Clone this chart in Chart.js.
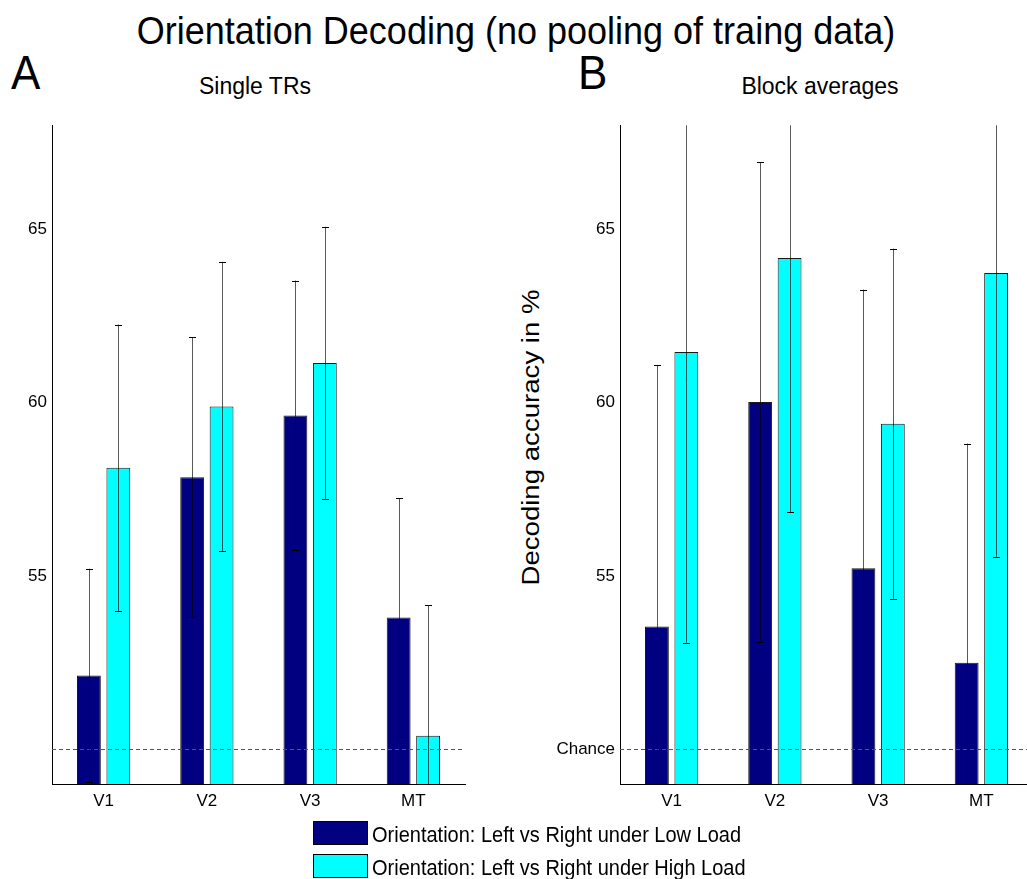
<!DOCTYPE html>
<html>
<head>
<meta charset="utf-8">
<title>Orientation Decoding</title>
<script src="https://cdn.jsdelivr.net/npm/chart.js@4.4.1/dist/chart.umd.min.js"></script>
<style>
  html, body { margin: 0; padding: 0; background: #fff; }
  body {
    width: 1027px; height: 879px; overflow: hidden; position: relative;
    font-family: Arial, "Liberation Sans", sans-serif; color: #000;
  }
  .txt { position: absolute; line-height: 1; white-space: nowrap; transform-origin: 0 0; }
  canvas { position: absolute; }
  .swatch { position: absolute; box-sizing: border-box; border: 1px solid #000; }
</style>
</head>
<body>
<div class="txt" style="left:0; width:1032px; text-align:center; top:11px; font-size:36px; transform-origin:50% 0; transform:scaleY(1.1);">Orientation Decoding (no pooling of traing data)</div>
<div class="txt" style="left:11px; top:48px; font-size:44px; transform:scaleY(1.1);">A</div>
<div class="txt" style="left:578px; top:48px; font-size:44px; transform:scaleY(1.1);">B</div>
<div class="txt" style="left:155px; width:200px; text-align:center; top:75px; font-size:23px;">Single TRs</div>
<div class="txt" style="left:720px; width:200px; text-align:center; top:75px; font-size:23px;">Block averages</div>
<div class="txt" id="ytitle" style="font-size:23px; transform-origin:50% 50%;">Decoding accuracy in %</div>

<canvas id="chartA" width="480" height="714" style="left:0; top:110px;"></canvas>
<canvas id="chartB" width="540" height="714" style="left:500px; top:110px;"></canvas>

<div class="swatch" style="left:313px; top:821px; width:55px; height:24px; background:#000080;"></div>
<div class="swatch" style="left:313px; top:854px; width:55px; height:24px; background:#00ffff;"></div>
<div class="txt" id="leg1" style="left:372px; top:823px; font-size:20px; transform:scaleY(1.1);"></div>
<div class="txt" id="leg2" style="left:372px; top:856px; font-size:20px; transform:scaleY(1.1);"></div>

<script>
// Data
const categories = ['V1', 'V2', 'V3', 'MT'];
const seriesNames = ['Orientation: Left vs Right under Low Load', 'Orientation: Left vs Right under High Load'];

// A: single TRs
const singleLow = [52.13, 57.85, 59.63, 53.80];
const singleLowErr = [3.08, 4.03, 3.89, 3.44];
const singleHigh = [58.12, 59.89, 61.14, 50.39];
const singleHighErr = [4.13, 4.17, 3.93, 3.77];

// B: block averages
const blockLow = [53.54, 60.02, 55.22, 52.50];
const blockLowErr = [7.53, 6.92, 8.04, 6.32];
const blockHigh = [61.46, 64.17, 59.39, 63.74];
const blockHighErr = [8.38, 7.33, 5.05, 8.19];

const chanceLevel = 50;
const yMin = 49, yMax = 68;
const ticksA = [55, 60, 65];
const ticksB = [50, 55, 60, 65];

const lowColor = '#000080';
const highColor = '#00ffff';
const fontFamily = 'Arial, "Liberation Sans", sans-serif';

document.getElementById('leg1').textContent = seriesNames[0];
document.getElementById('leg2').textContent = seriesNames[1];

// y-axis title of panel B (rotated)
const yt = document.getElementById('ytitle');
const ytW = yt.offsetWidth, ytH = yt.offsetHeight;
yt.style.left = (531.5 - ytW / 2) + 'px';
yt.style.top = (437 - ytH / 2) + 'px';
yt.style.transform = 'rotate(-90deg) scaleX(1.2)';

// chance line + error bars
const overlayPlugin = {
  id: 'overlay',
  afterDatasetsDraw(chart) {
    const ctx = chart.ctx, area = chart.chartArea, y = chart.scales.y;
    ctx.save();
    ctx.beginPath();
    ctx.rect(area.left, area.top, area.right - area.left, area.bottom - area.top);
    ctx.clip();
    ctx.lineWidth = 1;

    const cy = Math.round(y.getPixelForValue(chanceLevel)) + 0.5;
    ctx.setLineDash([4, 3]);
    ctx.strokeStyle = '#555';
    ctx.beginPath();
    ctx.moveTo(area.left, cy);
    ctx.lineTo(area.right, cy);
    ctx.stroke();
    ctx.setLineDash([]);

    chart.data.datasets.forEach((ds, di) => {
      const meta = chart.getDatasetMeta(di);
      meta.data.forEach((bar, i) => {
        const v = ds.data[i], e = ds.errors[i];
        const top = y.getPixelForValue(v + e), bot = y.getPixelForValue(v - e);
        const x = Math.round(bar.x) + 0.5;
        ctx.strokeStyle = 'rgba(0,0,0,0.65)';
        ctx.beginPath();
        ctx.moveTo(x, top);
        ctx.lineTo(x, bot);
        ctx.stroke();
        ctx.strokeStyle = '#000';
        [top, bot].forEach(py => {
          if (py >= area.top && py <= area.bottom) {
            const yy = Math.round(py) + 0.5;
            ctx.beginPath();
            ctx.moveTo(x - 3.5, yy);
            ctx.lineTo(x + 3.5, yy);
            ctx.stroke();
          }
        });
      });
    });
    ctx.restore();
  }
};

function makeChart(id, low, lowErr, high, highErr, ticks, axisWidth, padRight) {
  const barOpts = { borderColor: '#1a1a1a', borderWidth: 1, categoryPercentage: 0.57, barPercentage: 0.81 };
  return new Chart(document.getElementById(id), {
    type: 'bar',
    data: {
      labels: categories,
      datasets: [
        Object.assign({ label: seriesNames[0], data: low, errors: lowErr, backgroundColor: lowColor }, barOpts),
        Object.assign({ label: seriesNames[1], data: high, errors: highErr, backgroundColor: highColor }, barOpts)
      ]
    },
    options: {
      responsive: false,
      animation: false,
      layout: { padding: { top: 15, right: padRight, left: 0, bottom: 0 } },
      plugins: { legend: { display: false }, tooltip: { enabled: false } },
      scales: {
        x: {
          grid: { display: false, drawTicks: false },
          border: { display: true, color: '#000', width: 1 },
          ticks: { color: '#000', padding: 7, font: { family: fontFamily, size: 17 } },
          afterFit: s => { s.height = 40; }
        },
        y: {
          min: yMin, max: yMax,
          grid: { display: false, drawTicks: false },
          border: { display: true, color: '#000', width: 1 },
          ticks: {
            color: '#000', padding: 5, font: { family: fontFamily, size: 17 },
            callback: v => (v === chanceLevel ? 'Chance' : v)
          },
          afterBuildTicks: s => { s.ticks = ticks.map(v => ({ value: v })); },
          afterFit: s => { s.width = axisWidth; }
        }
      }
    },
    plugins: [overlayPlugin]
  });
}

makeChart('chartA', singleLow, singleLowErr, singleHigh, singleHighErr, ticksA, 52, 15);
makeChart('chartB', blockLow, blockLowErr, blockHigh, blockHighErr, ticksB, 120, 7);
</script>
</body>
</html>
